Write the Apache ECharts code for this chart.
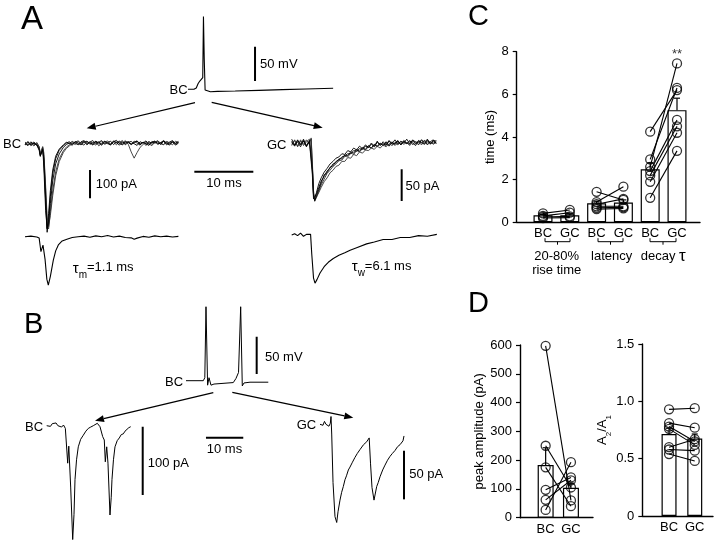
<!DOCTYPE html>
<html><head><meta charset="utf-8">
<script src="https://cdn.jsdelivr.net/npm/echarts@6/dist/echarts.min.js"></script>
<style>html,body{margin:0;padding:0;background:#fff}#chart{width:720px;height:545px}</style>
</head><body><div id="chart"></div>
<script>
const FONT = "'Liberation Sans', Arial, sans-serif";

// ---------------- Panel A traces (time in ms, current in pA, voltage in mV) ----------------
const aVmTime = [0,1.0,1.4,1.7,2.0,2.3,2.5,2.62,2.75,2.9,3.2,3.8,5,8,12,16,20,24.6];
const aVm     = [-65,-65,-63,-57,-53,-51,-48,41,-20,-66,-68.5,-68.5,-68,-67.5,-66.5,-65.5,-64.5,-63.5];

const aBcTime = [0,0.5,1,1.5,2,2.4,2.6,2.8,3.0,3.2,3.5,3.75,4.0,4.3,4.7,5.2,5.8,6.5,7,7.5,8,8.5,9,9.5,10,10.5,11,11.5,12,12.5,13,13.5,14,14.5,15,15.5,16,16.5,17,17.5,18,18.5,19,19.5,20,20.5,21,21.5,22,22.5,23,23.5,24,24.5,25,25.5,26];
const aBcSweep1 = [-4,6,-3,7,-2,-14,-42,-30,-16,-60,-205,-312,-268,-185,-105,-52,-22,-6,3,8,-1,6,11,2,9,-3,7,12,1,8,-2,10,4,-4,8,13,2,-3,9,5,-2,7,11,0,6,-5,8,3,10,-1,5,12,2,-4,7,3,9];
const aBcSweep2 = [5,-3,8,-5,4,-9,-36,-40,-24,-42,-165,-285,-300,-238,-165,-98,-52,-24,-11,-3,5,-2,8,1,-4,9,3,-2,10,4,-5,6,11,0,7,-3,9,2,12,-1,-28,-50,-30,-12,-2,8,1,-6,7,11,3,-2,9,4,-3,10,5];
const aBcSweep3 = [-2,9,-6,3,-4,-22,-44,-24,-12,-85,-235,-298,-245,-165,-92,-43,-18,-3,6,1,9,3,-3,8,12,2,6,-4,9,3,11,-1,5,10,-2,7,4,12,-3,6,9,1,-5,8,3,11,-2,6,10,0,4,9,-3,7,12,2,6];
const aBcSweep4 = [7,-2,3,-7,5,-11,-34,-21,-9,-32,-150,-258,-292,-252,-182,-112,-62,-30,-16,-7,1,7,-3,5,10,-1,8,3,-4,7,12,1,6,-2,9,4,11,-3,5,8,0,10,3,-4,7,2,9,-2,6,11,1,-3,8,4,10,-1,5];
const aBcSweep5 = [2,-6,5,1,-3,-18,-40,-35,-20,-55,-190,-300,-280,-210,-130,-70,-35,-12,-2,4,-5,9,2,-3,6,10,-1,4,8,-6,3,9,1,-2,11,5,-4,7,2,8,-1,4,10,-3,6,1,-5,9,3,7,-2,11,4,0,8,-4,3];

const aGcTime = [0,0.5,1,1.5,2,2.5,3.0,3.3,3.5,3.7,3.9,4.2,4.6,5,5.5,6,6.5,7,7.5,8,8.5,9,9.5,10,10.5,11,11.5,12,12.5,13,13.5,14,14.5,15,15.5,16,16.5,17,17.5,18,18.5,19,19.5,20,20.5,21,21.5,22,22.5,23,23.5,24,24.5];
const aGcSweep1 = [3,-4,5,-3,6,-4,2,6,-38,-80,-88,-78,-64,-55,-46,-40,-33,-29,-24,-22,-17,-18,-12,-14,-8,-11,-5,-9,-3,-7,0,-5,3,-4,2,-3,4,-1,5,-2,3,0,6,-1,4,2,-3,5,1,6,-2,4,3];
const aGcSweep2 = [-4,5,-6,3,-2,5,-3,8,-30,-75,-92,-86,-76,-66,-57,-48,-43,-37,-33,-28,-27,-21,-22,-16,-18,-12,-14,-9,-11,-6,-8,-3,-6,-1,-4,0,-3,2,-4,1,-2,3,-1,4,-3,2,0,5,-2,3,1,-1,4];
const aGcSweep3 = [6,-3,2,-6,4,-5,3,2,-50,-88,-85,-80,-70,-60,-53,-44,-40,-33,-31,-25,-25,-19,-20,-14,-16,-10,-13,-7,-10,-4,-8,-2,-5,0,-4,2,-5,1,-2,3,-3,4,0,-2,5,-1,3,0,4,-3,2,5,-1];
const aGcSweep4 = [-2,4,-5,5,-4,2,6,5,-35,-82,-90,-88,-78,-70,-61,-55,-47,-43,-37,-35,-29,-29,-23,-24,-18,-20,-14,-16,-11,-12,-8,-10,-5,-8,-3,-6,-1,-4,0,-3,2,-2,1,-4,3,-1,2,-3,4,0,2,-2,1];
const aGcSweep5 = [1,-5,4,-2,3,-6,4,7,-42,-84,-91,-83,-73,-63,-50,-47,-38,-36,-29,-27,-22,-20,-17,-17,-12,-13,-9,-10,-5,-7,-2,-6,1,-3,-1,-4,3,-2,0,4,-3,2,-1,3,0,-4,4,1,-2,5,-1,2,0];

const aBcAvgTime = [0,1,2,2.4,2.7,3.05,3.4,3.7,3.95,4.3,4.8,5.2,5.65,6.3,7.1,8,9,10,11,12,13,14,15,16,17,18,18.5,19,20,21,22,23,24,25,26];
const aBcAvg     = [0,2,-1,-5,-53,-30,-80,-150,-171,-140,-83,-50,-29,-15,-9,-3,0,2,-2,3,0,4,-1,2,-3,-4,-9,-5,1,-2,3,0,2,-1,1];
const aGcAvgTime = [0,0.5,1,1.5,2,2.5,2.8,3.2,3.4,3.7,3.95,4.3,4.8,5.5,6.2,7.05,8,9,9.9,11,12.7,14,15.5,17,18.4,20,21.5,23,24.6];
const aGcAvg     = [0,2,-1,3,-2,1,3,1,-30,-68,-76,-70,-60,-50,-43,-37,-32,-28,-24,-20,-14,-11,-7,-7,-4,-4,-1,-2,1];

// ---------------- Panel B traces ----------------
const bVmTime = [0,4.64,5.04,5.36,5.79,6.17,6.70,7.5,12.68,13.4,14.08,14.66,15.09,15.55,17.16,22.06];
const bVm     = [-65,-65,-61,34,-71,-61,-71,-69.5,-67.5,-62,-54,34,-72,-68,-67,-67];
const bBcTime = [0,0.5,1,1.5,2,2.5,3,3.5,4,4.5,5,5.36,5.63,5.92,6.43,6.97,7.32,7.59,8.0,8.47,9.1,9.81,10.5,11.15,11.8,12.49,13.0,13.57,14.29,15.01,15.44,15.71,16.09,16.43,16.97,17.3,17.5,17.9,18.31,18.9,19.46,20.0,20.54,21.0,21.45,22.0,22.52];
const bBc     = [0,2,-1,3,1,4,0,2,-2,1,-4,-6,-55,-30,-90,-167,-130,-79,-50,-31,-20,-14,-8,-4,-2,0,2,3.5,-1.5,-16,-21,-53,-31,-55,-131,-105,-79,-50,-31,-22,-18,-13,-12,-8,-6,-3,-1.5];
const bGcTime = [0,0.4,0.8,1.2,1.6,2.0,2.4,2.76,2.95,3.14,3.49,4.02,4.48,4.83,5.36,5.8,6.25,6.7,7.1,7.6,8.04,8.7,9.38,10.0,10.72,11.2,11.66,12.1,12.52,12.95,13.19,13.54,13.94,14.48,15.2,15.6,16.09,16.8,17.43,18.1,18.77,19.4,20.1,20.8,21.45,21.9,22.25,22.52];
const bGc     = [0,2,-1,3,0,2,-2,1,8,-10,-60,-95,-101,-90,-78,-70,-64,-57,-53,-47,-44,-39,-34,-30,-26,-24,-21,-19,-18,-16,-14,-40,-65,-78,-64,-60,-54,-47,-42,-37,-33,-30,-27,-23,-21,-20,-17,-12];

// scale bar lengths
const scaleMv = 50, scaleBcPa = 100, scaleGcPa = 50, scaleMs = 10;

// ---------------- Panel C ----------------
const cCategories = ['BC','GC','BC','GC','BC','GC'];
const cMeans = [0.33,0.33,0.89,0.93,2.49,5.26];
const cErr   = [0.04,0.06,0.1,0.12,0.3,0.56];
const cRiseBC = [0.42,0.30,0.25,0.20];
const cRiseGC = [0.58,0.45,0.28,0.22];
const cLatBC  = [1.43,0.95,0.85,0.75,0.68,0.62];
const cLatGC  = [1.05,1.67,1.10,0.75,0.70,0.65];
const cDecBC  = [2.6,4.25,2.95,2.4,2.2,1.9,1.15];
const cDecGC  = [7.45,6.2,6.3,4.8,4.5,4.2,3.35];

// ---------------- Panel D ----------------
const dCategories = ['BC','GC'];
const dAmpMeans = [183,104];
const dAmpErr   = [60,16];
const dAmpBC = [597,250,175,97,62,27];
const dAmpGC = [60,105,40,140,130,193];
const dPprMeans = [0.715,0.675];
const dPprErr   = [0.05,0.04];
const dPprBC = [0.93,0.81,0.78,0.76,0.60,0.58,0.54];
const dPprGC = [0.94,0.77,0.65,0.62,0.67,0.57,0.48];

// ---------------- build ----------------
const grids = [], xAxes = [], yAxes = [], series = [];
function traceGrid(x0, y0, pxT, pxV, vRef, tMin, tMax, vMin, vMax) {
  const gi = grids.length;
  grids.push({left: x0 + tMin*pxT, top: y0 - (vMax - vRef)*pxV, width: (tMax - tMin)*pxT, height: (vMax - vMin)*pxV});
  xAxes.push({type:'value', gridIndex: gi, min: tMin, max: tMax, show: false});
  yAxes.push({type:'value', gridIndex: gi, min: vMin, max: vMax, show: false});
  return gi;
}
function trace(gi, t, v, width, color) {
  series.push({type:'line', xAxisIndex: gi, yAxisIndex: gi, data: t.map((x, i) => [x, v[i]]),
    symbol:'none', showSymbol:false, silent:true, clip:false, z:3,
    lineStyle:{width: width, color: color}});
}
function scaleBar(gi, pts) {
  series.push({type:'line', xAxisIndex: gi, yAxisIndex: gi, data: pts, symbol:'none', showSymbol:false,
    silent:true, clip:false, z:3, lineStyle:{width:2, color:'#000'}});
}

// Panel A
const gAv = traceGrid(188, 89.3, 5.9, 0.686, -65, 0, 25, -75, 50);
trace(gAv, aVmTime, aVm, 1.1, '#000');
scaleBar(gAv, [[11.36, -52.9], [11.36, -52.9 + scaleMv]]);

const gAbc = traceGrid(25, 144, 5.9, 0.283, 0, 0, 40, -330, 40);
[aBcSweep1, aBcSweep2, aBcSweep3, aBcSweep4, aBcSweep5].forEach((s, k) =>
  trace(gAbc, aBcTime, s, 0.9, k % 2 ? '#333' : '#000'));
scaleBar(gAbc, [[11.02, -92], [11.02, -92 - scaleBcPa]]);
scaleBar(gAbc, [[28.7, -97.9], [28.7 + scaleMs, -97.9]]);

const gAgc = traceGrid(291.7, 143, 5.9, 0.634, 0, 0, 26, -100, 20);
[aGcSweep1, aGcSweep2, aGcSweep3, aGcSweep4, aGcSweep5].forEach((s, k) =>
  trace(gAgc, aGcTime, s, 0.9, k % 2 ? '#333' : '#000'));
scaleBar(gAgc, [[18.64, -41.5], [18.64, -41.5 - scaleGcPa]]);

const gAbca = traceGrid(25, 236.7, 5.9, 0.283, 0, 0, 27, -180, 20);
trace(gAbca, aBcAvgTime, aBcAvg, 1.1, '#000');
const gAgca = traceGrid(291.7, 235, 5.9, 0.634, 0, 0, 26, -80, 10);
trace(gAgca, aGcAvgTime, aGcAvg, 1.1, '#000');

// Panel B
const gBv = traceGrid(186, 380.7, 3.73, 0.747, -65, 0, 24, -80, 40);
trace(gBv, bVmTime, bVm, 1.0, '#000');
scaleBar(gBv, [[18.95, -56], [18.95, -56 + scaleMv]]);

const gBbc = traceGrid(46.7, 425.7, 3.73, 0.683, 0, 0, 54, -175, 10);
trace(gBbc, bBcTime, bBc, 1.0, '#000');
scaleBar(gBbc, [[25.74, -1.5], [25.74, -1.5 - scaleBcPa]]);
scaleBar(gBbc, [[42.7, -17.6], [42.7 + scaleMs, -17.6]]);

const gBgc = traceGrid(320, 424.3, 3.73, 0.972, 0, 0, 24, -105, 15);
trace(gBgc, bGcTime, bGc, 1.0, '#000');
scaleBar(gBgc, [[22.52, -27.2], [22.52, -27.2 - scaleGcPa]]);

// ---- bar chart helpers ----
const axLine = {show:true, onZero:false, lineStyle:{color:'#000', width:1.4}};
const lbl = {color:'#000', fontSize:13, fontFamily:FONT};
function axesGrid(left, top, width, height, yMin, yMax, yInt, name, nameGap, fmt, nameRich) {
  const gi = grids.length;
  grids.push({left, top, width, height});
  xAxes.push({type:'value', gridIndex:gi, min:0, max:1, axisLine:axLine, axisTick:{show:false},
    axisLabel:{show:false}, splitLine:{show:false}});
  yAxes.push({type:'value', gridIndex:gi, min:yMin, max:yMax, interval:yInt, axisLine:axLine,
    axisTick:{show:true, length:4, lineStyle:{color:'#000', width:1.2}},
    axisLabel:Object.assign({margin:8, formatter: fmt}, lbl), splitLine:{show:false},
    name:name, nameLocation:'middle', nameGap:nameGap,
    nameTextStyle:Object.assign({rich: nameRich}, lbl)});
  return gi;
}
function dataGrid(left, top, width, height, cats, yMin, yMax) {
  const gi = grids.length;
  grids.push({left, top, width, height});
  xAxes.push({type:'category', gridIndex:gi, data:cats, axisLine:{show:false}, axisTick:{show:false},
    axisLabel:Object.assign({margin:5, interval:0}, lbl)});
  yAxes.push({type:'value', gridIndex:gi, min:yMin, max:yMax, show:false});
  return gi;
}
function bars(gi, means, err, width) {
  series.push({type:'bar', xAxisIndex:gi, yAxisIndex:gi, data:means, barWidth:width, silent:true, z:2,
    itemStyle:{color:'#fff', borderColor:'#000', borderWidth:1.2}});
  series.push({type:'custom', xAxisIndex:gi, yAxisIndex:gi, silent:true, z:3,
    data: means.map((m, i) => [i, m, m + err[i]]),
    renderItem: function (params, api) {
      const p0 = api.coord([api.value(0), api.value(1)]);
      const p1 = api.coord([api.value(0), api.value(2)]);
      return {type:'group', children:[
        {type:'line', shape:{x1:p0[0], y1:p0[1], x2:p1[0], y2:p1[1]}, style:{stroke:'#000', lineWidth:1.2}},
        {type:'line', shape:{x1:p1[0]-3, y1:p1[1], x2:p1[0]+3, y2:p1[1]}, style:{stroke:'#000', lineWidth:1.2}}
      ]};
    }});
}
function pairs(gi, i0, a, b) {
  a.forEach((v, k) => {
    series.push({type:'line', xAxisIndex:gi, yAxisIndex:gi, data:[[i0, v], [i0 + 1, b[k]]],
      symbol:'none', showSymbol:false, silent:true, z:4, lineStyle:{color:'#000', width:1.1}});
  });
  series.push({type:'scatter', xAxisIndex:gi, yAxisIndex:gi, silent:true, z:5, symbol:'circle', symbolSize:9,
    data: a.map(v => [i0, v]).concat(b.map(v => [i0 + 1, v])),
    itemStyle:{color:'rgba(255,255,255,0)', borderColor:'#000', borderWidth:1.3}});
}

// Panel C
axesGrid(516.7, 51.7, 183.3, 170.6, 0, 8, 2, 'time (ms)', 20, v => String(v));
const gC = dataGrid(529.6, 51.7, 160.8, 170.6, cCategories, 0, 8);
bars(gC, cMeans, cErr, 19);
pairs(gC, 0, cRiseBC, cRiseGC);
pairs(gC, 2, cLatBC, cLatGC);
pairs(gC, 4, cDecBC, cDecGC);
series.push({type:'scatter', xAxisIndex:gC, yAxisIndex:gC, silent:true, symbolSize:0, data:[[5, 7.85]],
  label:{show:true, position:'inside', formatter:'**', color:'#000', fontSize:13, fontFamily:FONT}});

// Panel D left
axesGrid(520, 345, 73, 172.7, 0, 600, 100, 'peak amplitude (pA)', 33, v => String(v));
const gDl = dataGrid(533, 345, 50.6, 172.7, dCategories, 0, 600);
bars(gDl, dAmpMeans, dAmpErr, 16);
pairs(gDl, 0, dAmpBC, dAmpGC);

// Panel D right
axesGrid(642.3, 344, 70.7, 172, 0, 1.5, 0.5, '{a|A}{s|2}{a|/A}{s|1}', 32,
  v => (v === 0 ? '0' : v.toFixed(1)),
  {a:{fontSize:13, lineHeight:13, verticalAlign:'top', fontFamily:FONT, color:'#000'},
   s:{fontSize:8, lineHeight:8, padding:[8,0,0,0], verticalAlign:'top', fontFamily:FONT, color:'#000'}});
const gDr = dataGrid(656.2, 344, 51.4, 172, dCategories, 0, 1.5);
bars(gDr, dPprMeans, dPprErr, 15);
pairs(gDr, 0, dPprBC, dPprGC);

// ---------------- annotations ----------------
function txt(s, x, y, size, align, rich) {
  return {type:'text', silent:true, style:{x, y, text:s, fill:'#000', fontSize:size, fontFamily:FONT,
    align:align || 'left', verticalAlign:'middle', textAlign:align || 'left', textVerticalAlign:'middle', rich}};
}
function arrow(x1, y1, x2, y2) {
  const L = 9, W = 3.5, dx = x2 - x1, dy = y2 - y1, d = Math.hypot(dx, dy), ux = dx / d, uy = dy / d;
  const bx = x2 - ux * L, by = y2 - uy * L;
  return [
    {type:'line', silent:true, shape:{x1, y1, x2:bx, y2:by}, style:{stroke:'#000', lineWidth:1.2}},
    {type:'polygon', silent:true, shape:{points:[[x2, y2], [bx - uy * W, by + ux * W], [bx + uy * W, by - ux * W]]}, style:{fill:'#000'}}
  ];
}
function bracket(x1, x2, y) {
  const m = (x1 + x2) / 2;
  return [
    {type:'polyline', silent:true, shape:{points:[[x1, y - 3.5], [x1, y], [x2, y], [x2, y - 3.5]]}, style:{stroke:'#000', lineWidth:1, fill:null}},
    {type:'line', silent:true, shape:{x1:m, y1:y, x2:m, y2:y + 3}, style:{stroke:'#000', lineWidth:1}}
  ];
}
const tauRich = {
  t:{fontSize:15, lineHeight:15, verticalAlign:'top', fontFamily:FONT, color:'#000'},
  s:{fontSize:10, lineHeight:10, padding:[9,0,0,0], verticalAlign:'top', fontFamily:FONT, color:'#000'},
  n:{fontSize:13, lineHeight:15, verticalAlign:'top', fontFamily:FONT, color:'#000'}
};
const graphics = [
  txt('A', 21, 19.5, 33), txt('B', 24, 325, 29), txt('C', 468, 16.5, 29), txt('D', 468, 304, 29),
  // A
  txt('BC', 169.5, 90, 13), txt('50 mV', 260, 64, 13), txt('BC', 3, 144.3, 13),
  txt('100 pA', 95.7, 184, 13), txt('10 ms', 224, 183.3, 13, 'center'), txt('GC', 267, 145, 13),
  txt('50 pA', 405.5, 186, 13),
  txt('{t|τ}{s|m}{n|=1.1 ms}', 72.7, 268.7, 13, 'left', tauRich),
  txt('{t|τ}{s|w}{n|=6.1 ms}', 351.7, 267, 13, 'left', tauRich),
  // B
  txt('BC', 165, 382.3, 13), txt('50 mV', 265, 357.3, 13), txt('BC', 25, 427.7, 13),
  txt('100 pA', 147.7, 463.3, 13), txt('10 ms', 224.5, 449, 13, 'center'), txt('GC', 296.7, 425.7, 13),
  txt('50 pA', 409.3, 474.3, 13),
  // C group labels
  txt('20-80%', 556.7, 256.7, 13, 'center'), txt('rise time', 556.7, 270.5, 13, 'center'),
  txt('latency', 611.7, 256.7, 13, 'center'),
  txt('{n|decay }{t|τ}', 663.3, 256.7, 13, 'center',
    {n:{fontSize:13, fontFamily:FONT, color:'#000'}, t:{fontSize:17, fontFamily:FONT, color:'#000'}})
].concat(
  arrow(195, 102.7, 86.7, 128.3), arrow(211.7, 102.3, 322.7, 127.7),
  arrow(213.3, 392.7, 95, 420.7), arrow(232.3, 392.3, 353.3, 417.7),
  bracket(545, 570, 241.7), bracket(598, 623, 241.7), bracket(650, 676, 241.7)
);

const chart = echarts.init(document.getElementById('chart'), null, {renderer:'canvas'});
chart.setOption({
  animation:false,
  backgroundColor:'#fff',
  grid: grids, xAxis: xAxes, yAxis: yAxes, series: series,
  graphic: graphics
});
</script></body></html>
